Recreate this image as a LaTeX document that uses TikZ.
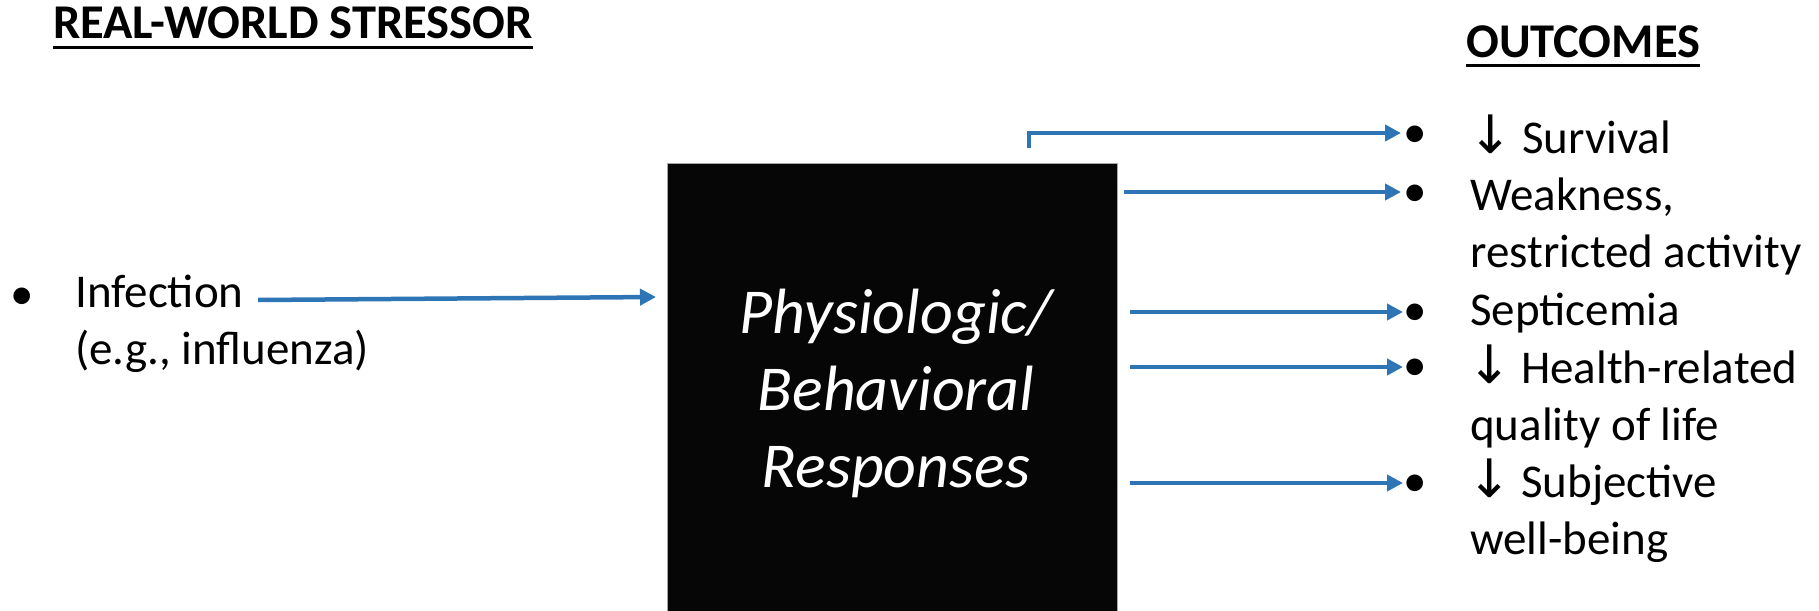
\documentclass[tikz,border=0pt]{standalone}
\usepackage{fontspec}
\setmainfont{Carlito}
\newfontfamily\symfont{DejaVu Sans}
\usetikzlibrary{arrows.meta}
\definecolor{arrowblue}{HTML}{2E75B6}
\definecolor{boxblack}{HTML}{060606}
\definecolor{boxedge}{HTML}{A6A6A6}
\newcommand{\dnarrow}{\leavevmode{\symfont\fontsize{53}{57.4}\selectfont\kern-3pt↓\kern-1pt}}
\begin{document}
\begin{tikzpicture}[x=1pt,y=-1pt,
  txt/.style={inner sep=0pt, anchor=base west, font=\fontsize{47}{57.4}\selectfont},
  head/.style={inner sep=0pt, anchor=base west, font=\fontsize{48.5}{57.4}\selectfont\bfseries},
  bul/.style={inner sep=0pt, anchor=center, font=\fontsize{47}{57.4}\selectfont},
  arr/.style={draw=arrowblue, line width=4.5pt, -{Triangle[length=16pt,width=16pt]}},
  uline/.style={line width=3pt}
]
\useasboundingbox (0,0) rectangle (1819,610);

% headings
\node[head] (hstress) at (53,38) {REAL-WORLD STRESSOR};
\draw[uline] ([yshift=-10pt]hstress.base west) -- ([yshift=-10pt]hstress.base east);
\node[head] (hout) at (1466,57) {OUTCOMES};
\draw[uline] ([yshift=-8.5pt]hout.base west) -- ([yshift=-8.5pt]hout.base east);

% stressor
\node[bul] (binf) at (22,299) {•};
\node[txt] (inf) at (75,307) {Infection};
\node[txt] (flu) at (75,364) {(e.g., influenza)};

% central box
\node[draw=boxedge, line width=1pt, fill=boxblack, anchor=north west,
      minimum width=450pt, minimum height=460pt, inner sep=0pt] (box) at (667,163) {};
\node[anchor=base, inner sep=0pt, text=white, font=\itshape\fontsize{64}{77}\selectfont]
      (resp) at (896,333) {\parbox[t]{440pt}{\centering Physiologic/\\Behavioral\\Responses}};

\coordinate (infstart) at (258,300);
\coordinate (infend) at (656,297);
\draw[arr] (infstart) -- (infend);

% outcome bullets
\node[bul] (b1) at (1415,137) {•};
\node[bul] (b2) at (1415,196) {•};
\node[bul] (b3) at (1415,315) {•};
\node[bul] (b4) at (1415,370) {•};
\node[bul] (b5) at (1415,486) {•};

% outcome texts
\node[txt] (o1) at (1471,153) {\dnarrow\ Survival};
\node[txt] (o2) at (1470,210) {\parbox[t]{345pt}{\raggedright Weakness,\\restricted activity}};
\node[txt] (o3) at (1470,325) {Septicemia};
\node[txt] (o4) at (1470,383) {\parbox[t]{345pt}{\raggedright\dnarrow\ Health-related\\quality of life}};
\node[txt] (o5) at (1470,497) {\parbox[t]{345pt}{\raggedright\dnarrow\ Subjective\\well-being}};

% outcome arrows
\coordinate (s1) at (1029,148);
\coordinate (s2) at (1124,192);
\coordinate (s3) at (1130,312);
\coordinate (s4) at (1130,367);
\coordinate (s5) at (1130,483);
\draw[arr] (s1) |- ([xshift=-14pt,yshift=4pt]b1.center);
\draw[arr] (s2) -- ([xshift=-14pt]b2.center |- s2);
\draw[arr] (s3) -- ([xshift=-12pt]b3.center |- s3);
\draw[arr] (s4) -- ([xshift=-12pt]b4.center |- s4);
\draw[arr] (s5) -- ([xshift=-12pt]b5.center |- s5);
\end{tikzpicture}
\end{document}
